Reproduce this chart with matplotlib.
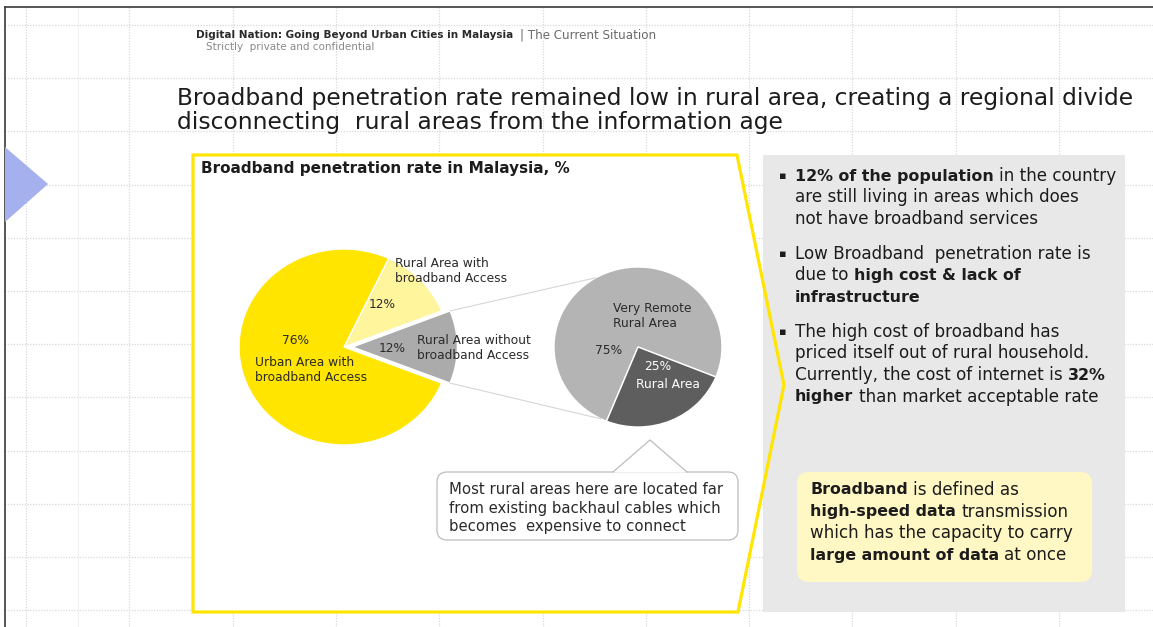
import matplotlib.pyplot as plt
import numpy as np
from matplotlib.patches import Polygon, Rectangle, FancyBboxPatch, ConnectionPatch

plt.rcParams["font.family"] = ["DejaVu Sans"]

# data
main_labels = ["Rural Area without\nbroadband Access", "Rural Area with\nbroadband Access",
               "Urban Area with\nbroadband Access"]
main_values = [12, 12, 76]
main_colors = ["#ababab", "#fff59d", "#ffe500"]
sub_labels = ["Very Remote\nRural Area", "Rural Area"]
sub_values = [75, 25]
sub_colors = ["#b4b4b4", "#5e5e5e"]

header = "Digital Nation: Going Beyond Urban Cities in Malaysia"
section = "| The Current Situation"
confidential = "Strictly  private and confidential"
title_lines = ["Broadband penetration rate remained low in rural area, creating a regional divide",
               "disconnecting  rural areas from the information age"]
chart_title = "Broadband penetration rate in Malaysia, %"
callout_lines = ["Most rural areas here are located far",
                 "from existing backhaul cables which",
                 "becomes  expensive to connect"]
# (text, bold) runs per line
bullets = [
    [[("12% of the population", True), (" in the country", False)],
     [("are still living in areas which does", False)],
     [("not have broadband services", False)]],
    [[("Low Broadband  penetration rate is", False)],
     [("due to ", False), ("high cost & lack of", True)],
     [("infrastructure", True)]],
    [[("The high cost of broadband has", False)],
     [("priced itself out of rural household.", False)],
     [("Currently, the cost of internet is ", False), ("32%", True)],
     [("higher", True), (" than market acceptable rate", False)]],
]
definition = [
    [("Broadband", True), (" is defined as", False)],
    [("high-speed data", True), (" transmission", False)],
    [("which has the capacity to carry", False)],
    [("large amount of data", True), (" at once", False)],
]

W, H = 1153, 627
fig = plt.figure(figsize=(W / 100, H / 100), dpi=100)
ax = fig.add_axes([0, 0, 1, 1])
ax.set_xlim(0, W)
ax.set_ylim(H, 0)
ax.axis("off")
renderer = fig.canvas.get_renderer()

# background grid
for gx in 26 + 103.3 * np.arange(11):
    ax.plot([gx, gx], [7, H], color="#d9d9d9", lw=0.9, ls=(0, (1, 1.2)), zorder=0)
for gy in 25 + 53.2 * np.arange(12):
    ax.plot([5, W], [gy, gy], color="#d9d9d9", lw=0.9, ls=(0, (1, 1.2)), zorder=0)
ax.plot([78, 78], [7, H], color="#f2f2f2", lw=0.8, zorder=0)

# slide border
ax.plot([5, W], [7, 7], color="#3a3a3a", lw=1.2, zorder=1)
ax.plot([5, 5], [7, H], color="#3a3a3a", lw=1.2, zorder=1)

# blue marker
ax.add_patch(Polygon([(5, 147), (48, 184), (5, 222)], closed=True, color="#a5b0ee", lw=0, zorder=1))

# header
ax.text(196, 35, header, fontsize=7.5, fontweight="bold", color="#2a2a2a", va="center", zorder=5)
ax.text(520, 35, section, fontsize=8.6, color="#6a6a6a", va="center", zorder=5)
ax.text(206, 47.5, confidential, fontsize=7.5, color="#8a8a8a", va="center", zorder=5)

# title
for i, line in enumerate(title_lines):
    ax.text(177, 98 + 24 * i, line, fontsize=16.8, color="#1c1c1c", va="center", zorder=5)

# frame and side panel
frame_pts = [(193, 155), (737, 155), (784, 385), (738, 612), (193, 612)]
ax.add_patch(Polygon(frame_pts, closed=True, facecolor="white", edgecolor="none", zorder=1))
ax.add_patch(Rectangle((763, 155), 362, 457, facecolor="#e8e8e8", edgecolor="none", zorder=2))
ax.add_patch(Polygon(frame_pts, closed=True, fill=False, edgecolor="#ffe500", lw=2.3, zorder=3))

ax.text(201, 168, chart_title, fontsize=11, fontweight="bold", color="#1c1c1c", va="center", zorder=5)

NORMAL_SIZE, BOLD_SIZE = 12.1, 11.4


def text_width(s, size, bold):
    t = ax.text(0, 0, s, fontsize=size, fontweight="bold" if bold else "normal")
    w = t.get_window_extent(renderer).width
    t.remove()
    return w


def draw_runs(x, y, runs, color="#1c1c1c"):
    for txt, bold in runs:
        size = BOLD_SIZE if bold else NORMAL_SIZE
        sp = text_width("a a", size, bold) - text_width("aa", size, bold)
        x += (len(txt) - len(txt.lstrip(" "))) * sp
        core = txt.strip(" ")
        if core:
            t = ax.text(x, y, core, fontsize=size, fontweight="bold" if bold else "normal",
                        color=color, va="center", ha="left", zorder=6)
            x += t.get_window_extent(renderer).width
        x += (len(txt) - len(txt.rstrip(" "))) * sp


# bullets
bullet_y = [176, 254, 332]
for by, lines in zip(bullet_y, bullets):
    ax.text(783, by, "\u25aa", fontsize=8, color="#1c1c1c", va="center", ha="center", zorder=6)
    for j, runs in enumerate(lines):
        draw_runs(795, by + 21.5 * j, runs)

# definition box
ax.add_patch(FancyBboxPatch((797, 472), 295, 110, boxstyle="round,pad=0,rounding_size=12",
                            facecolor="#fff7c4", edgecolor="none", zorder=4))
for j, runs in enumerate(definition):
    draw_runs(810, 490 + 21.7 * j, runs)

# callout
ax.add_patch(FancyBboxPatch((437, 472), 301, 68, boxstyle="round,pad=0,rounding_size=10",
                            facecolor="white", edgecolor="#bdbdbd", lw=0.9, zorder=4))
ax.add_patch(Polygon([(613, 472.6), (650, 440), (687, 472.6)], closed=True,
                     facecolor="white", edgecolor="none", zorder=4.5))
ax.plot([613, 650, 687], [472, 440, 472], color="#bdbdbd", lw=0.9, zorder=4.6)
for j, line in enumerate(callout_lines):
    ax.text(449, 490 + 18.4 * j, line, fontsize=10.7, color="#2a2a2a", va="center", zorder=6)


def pie_axes(cx, cy, rx, ry):
    pax = fig.add_axes([(cx - rx) / W, 1 - (cy + ry) / H, 2 * rx / W, 2 * ry / H])
    pax.axis("off")
    return pax


# main pie
pa = pie_axes(344, 347, 105, 98)
start = -main_values[0] * 3.6 / 2
wedges, _ = pa.pie(main_values, colors=main_colors, startangle=start, counterclock=True,
                   explode=[0.08, 0, 0], wedgeprops=dict(edgecolor="white", linewidth=1.0))
pa.set_xlim(-1, 1)
pa.set_ylim(-1, 1)
pa.set_aspect("auto")
for w in wedges:
    w.set_clip_on(False)

# sub pie
sa = pie_axes(638, 347, 84, 80)
swedges, _ = sa.pie(sub_values, colors=sub_colors, startangle=-22, counterclock=True,
                    wedgeprops=dict(edgecolor="white", linewidth=1.0))
sa.set_xlim(-1, 1)
sa.set_ylim(-1, 1)
sa.set_aspect("auto")

# overlay for connectors and labels
top = fig.add_axes([0, 0, 1, 1], label="overlay")
top.set_xlim(0, W)
top.set_ylim(H, 0)
top.axis("off")

a1 = np.deg2rad(start + main_values[0] * 3.6)
a2 = np.deg2rad(start)
for am, asub in [(a1, np.deg2rad(120)), (a2, np.deg2rad(-116))]:
    con = ConnectionPatch(xyA=(0.08 + np.cos(am), np.sin(am)), coordsA=pa.transData,
                          xyB=(np.cos(asub), np.sin(asub)), coordsB=sa.transData,
                          color="#d6d6d6", lw=0.8)
    top.add_artist(con)

lab = dict(fontsize=8.8, color="#2a2a2a", va="center", ha="left", linespacing=1.2)
top.text(395, 271, main_labels[1], **lab)
top.text(369, 304, f"{main_values[1]}%", **lab)
top.text(417, 348, main_labels[0], **lab)
top.text(379, 349, f"{main_values[0]}%", **lab)
top.text(282, 340, f"{main_values[2]}%", **lab)
top.text(255, 370, main_labels[2], **lab)
top.text(613, 316, sub_labels[0], **lab)
top.text(595, 351, f"{sub_values[0]}%", **lab)
top.text(644, 366, f"{sub_values[1]}%", **dict(lab, color="white"))
top.text(636, 384, sub_labels[1], **dict(lab, color="white"))

fig.savefig("out.png", dpi=100)
